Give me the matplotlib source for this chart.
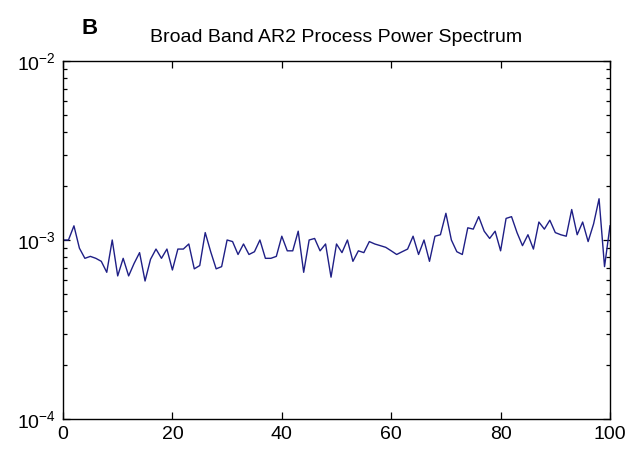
import numpy as np
import matplotlib
matplotlib.use("Agg")
import matplotlib.pyplot as plt
from matplotlib.ticker import LogLocator, NullFormatter, MultipleLocator

plt.rcParams['font.family'] = ['Liberation Sans', 'DejaVu Sans']
plt.rcParams['mathtext.fontset'] = 'custom'
plt.rcParams['mathtext.rm'] = 'Liberation Sans'
plt.rcParams['axes.unicode_minus'] = False

# frequency bins and power values (in units of 1e-3)
freq = np.arange(0, 101)
power_e3 = [
    1.00, 1.00, 1.20, 0.90, 0.79, 0.81, 0.79, 0.76, 0.66, 1.00,
    0.63, 0.79, 0.63, 0.74, 0.85, 0.59, 0.78, 0.89, 0.79, 0.89,
    0.68, 0.89, 0.89, 0.95, 0.69, 0.72, 1.10, 0.86, 0.69, 0.71,
    1.00, 0.98, 0.83, 0.95, 0.83, 0.86, 1.00, 0.79, 0.79, 0.81,
    1.05, 0.87, 0.87, 1.12, 0.66, 1.00, 1.02, 0.87, 0.95, 0.62,
    0.95, 0.85, 1.00, 0.76, 0.87, 0.85, 0.98, 0.95, 0.93, 0.91,
    0.87, 0.83, 0.86, 0.89, 1.05, 0.83, 1.00, 0.76, 1.05, 1.07,
    1.41, 1.00, 0.86, 0.83, 1.17, 1.15, 1.35, 1.12, 1.02, 1.12,
    0.87, 1.32, 1.35, 1.10, 0.93, 1.07, 0.89, 1.26, 1.15, 1.29,
    1.10, 1.07, 1.05, 1.48, 1.07, 1.26, 0.98, 1.23, 1.70, 0.71,
    1.20,
]
power = np.array(power_e3) * 1e-3

title = 'Broad Band AR2 Process Power Spectrum'
panel = 'B'

fig = plt.figure(figsize=(6.35, 4.54), dpi=100)
ax = fig.add_axes([63 / 635, 1 - 419 / 454, (610 - 63) / 635, (419 - 61) / 454])

ax.semilogy(freq, power, color='#1f1f86', linewidth=1.0)

ax.set_xlim(0, 100)
ax.set_ylim(1e-4, 1e-2)
ax.xaxis.set_major_locator(MultipleLocator(20))
ax.yaxis.set_major_locator(LogLocator(base=10, numticks=10))
ax.yaxis.set_minor_locator(LogLocator(base=10, subs=np.arange(2, 10), numticks=20))
ax.yaxis.set_minor_formatter(NullFormatter())

ax.tick_params(which='both', direction='in', top=True, right=True, labelsize=14,
               color='black', width=0.9)
ax.tick_params(which='major', length=5)
ax.tick_params(which='minor', length=3)
ax.tick_params(axis='x', pad=5)
ax.tick_params(axis='y', pad=5)
for s in ax.spines.values():
    s.set_linewidth(1.0)

ax.set_title(title, fontsize=14, pad=13.5)
fig.text(81 / 635, 1 - 34 / 454, panel, fontsize=16, fontweight='bold',
         ha='left', va='baseline')

fig.savefig('out.png', dpi=100)
